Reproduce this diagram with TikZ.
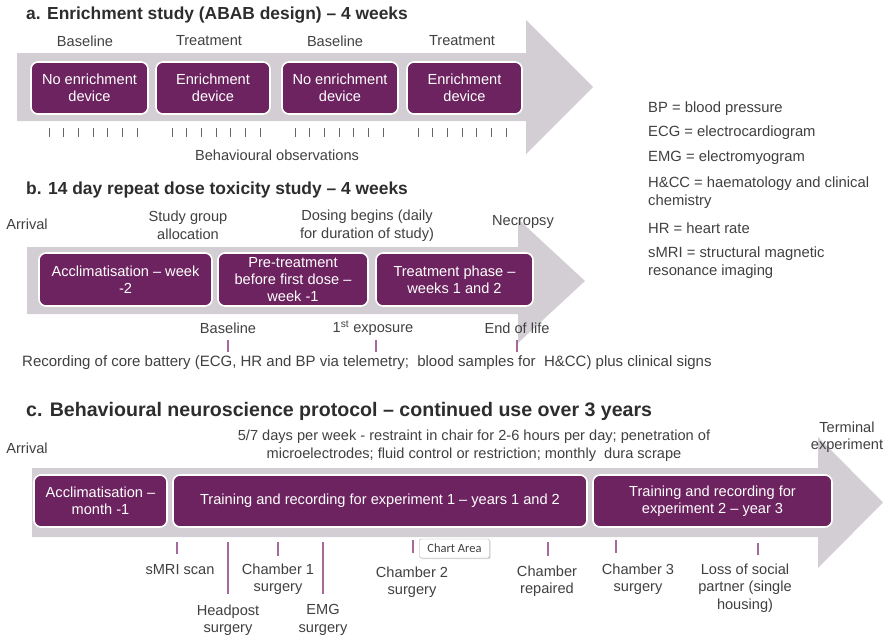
\documentclass[tikz,border=0pt]{standalone}
\usepackage{fontspec}
\setmainfont{Liberation Sans}
\newfontfamily\chartfont{Carlito}
\usetikzlibrary{shadows}
\definecolor{arrowgrey}{RGB}{211,206,211}
\definecolor{boxpurple}{RGB}{108,35,95}
\definecolor{tickpurple}{RGB}{165,105,155}
\definecolor{txt}{RGB}{64,64,64}
\definecolor{ttl}{RGB}{45,45,45}
\begin{document}
\begin{tikzpicture}[x=1pt,y=-1pt,
  lbl/.style={font=\fontsize{14.6}{17.5}\selectfont, text=txt, align=center, inner sep=0pt},
  lgd/.style={font=\fontsize{14.8}{17.5}\selectfont, text=txt, align=left, anchor=west, inner sep=0pt},
  ttlstyle/.style={font=\fontsize{17.4}{20}\selectfont\bfseries, text=ttl, anchor=west, inner sep=0pt},
  phase/.style={rectangle, rounded corners=7pt, fill=boxpurple, draw=white, line width=1.6pt, text=white, font=\fontsize{14.6}{17}\selectfont, align=center, inner sep=0pt},
  band/.style={fill=arrowgrey, draw=none},
  tmark/.style={draw=tickpurple, line width=1.2pt}
]
\useasboundingbox (0,0) rectangle (889,640);

% ---------------- a ----------------
\node[ttlstyle] (ta) at (26,15) {a. Enrichment study (ABAB design) – 4 weeks};
\fill[band] (17,53) -- (526,53) -- (526,20) -- (593,87) -- (526,154) -- (526,121) -- (17,121) -- cycle;
\node[lbl] (la1) at (85,41) {Baseline};
\node[lbl] (la2) at (209,41) {Treatment};
\node[lbl] (la3) at (335,41) {Baseline};
\node[lbl] (la4) at (462,41) {Treatment};
\node[phase, minimum width=117, minimum height=52] (a1) at (89.5,88) {No enrichment\\device};
\node[phase, minimum width=114, minimum height=52] (a2) at (213,88) {Enrichment\\device};
\node[phase, minimum width=116, minimum height=52] (a3) at (340,88) {No enrichment\\device};
\node[phase, minimum width=115, minimum height=52] (a4) at (464.5,88) {Enrichment\\device};
\foreach \s in {49,172,295,418} {
  \foreach \i in {0,...,6} {
    \draw[tmark, draw=txt!80, line width=0.9pt] ({\s+\i*14.7},128) -- ({\s+\i*14.7},137);
  }
}
\node[lbl] (obs) at (277,155) {Behavioural observations};

% ---------------- b ----------------
\node[ttlstyle] (tb) at (26,190) {b. 14 day repeat dose toxicity study – 4 weeks};
\fill[band] (27,247) -- (518,247) -- (518,219) -- (585,281) -- (518,343) -- (518,314) -- (27,314) -- cycle;
\node[lbl] (arrb) at (27,224) {Arrival};
\node[lbl] (sga) at (188,225.5) {Study group\\allocation};
\node[lbl] (dose) at (367,225.5) {Dosing begins (daily\\for duration of study)};
\node[lbl] (necr) at (523,222) {Necropsy};
\node[phase, minimum width=173, minimum height=53] (b1) at (125.5,279.5) {Acclimatisation – week\\-2};
\node[phase, minimum width=150, minimum height=53] (b2) at (293,279.5) {Pre-treatment\\before first dose –\\week -1};
\node[phase, minimum width=157, minimum height=53] (b3) at (454.5,279.5) {Treatment phase –\\weeks 1 and 2};
\node[lbl] (base) at (228,328) {Baseline};
\node[lbl] (expo) at (373,328) {1\textsuperscript{st} exposure};
\node[lbl] (eol) at (517,328) {End of life};
\coordinate (tb1a) at (228,340); \coordinate (tb1b) at (228,352);
\coordinate (tb2a) at (376,340); \coordinate (tb2b) at (376,352);
\coordinate (tb3a) at (517,340); \coordinate (tb3b) at (517,352);
\draw[tmark] (tb1a) -- (tb1b);
\draw[tmark] (tb2a) -- (tb2b);
\draw[tmark] (tb3a) -- (tb3b);
\node[lbl, anchor=west, font=\fontsize{15}{18}\selectfont] (rec) at (22,363) {Recording of core battery (ECG, HR and BP via telemetry;\ \ blood samples for\ \ H\&CC) plus clinical signs};

% ---------------- c ----------------
\node[ttlstyle, font=\fontsize{19.6}{22}\selectfont\bfseries] (tc) at (26,411) {c. Behavioural neuroscience protocol – continued use over 3 years};
\fill[band] (32,468) -- (818,468) -- (818,437) -- (883,502.5) -- (818,568) -- (818,537) -- (32,537) -- cycle;
\node[lbl] (arrc) at (27,448) {Arrival};
\node[lbl] (restr) at (474,445.5) {5/7 days per week - restraint in chair for 2-6 hours per day; penetration of\\microelectrodes; fluid control or restriction; monthly\ \ dura scrape};
\node[lbl] (term) at (847,437) {Terminal\\experiment};
\node[phase, minimum width=133, minimum height=52] (c1) at (100.5,501) {Acclimatisation –\\month -1};
\node[phase, minimum width=414, minimum height=52] (c2) at (380,501) {Training and recording for experiment 1 – years 1 and 2};
\node[phase, minimum width=239, minimum height=52] (c3) at (712.5,501) {Training and recording for\\experiment 2 – year 3};

\node[lbl] (smri) at (180,570) {sMRI scan};
\node[lbl] (head) at (228,620) {Headpost\\surgery};
\node[lbl] (ch1) at (278,579) {Chamber 1\\surgery};
\node[lbl] (emg) at (323,620) {EMG\\surgery};
\node[lbl] (ch2) at (412,582) {Chamber 2\\surgery};
\node[lbl] (rep) at (547,581) {Chamber\\repaired};
\node[lbl] (ch3) at (638,579) {Chamber 3\\surgery};
\node[lbl] (loss) at (745,588) {Loss of social\\partner (single\\housing)};

\coordinate (k1a) at (177,542); \coordinate (k1b) at (177,554);
\coordinate (k2a) at (228,542); \coordinate (k2b) at (228,594);
\coordinate (k3a) at (278,542); \coordinate (k3b) at (278,556);
\coordinate (k4a) at (323,542); \coordinate (k4b) at (323,594);
\coordinate (k5a) at (413,540); \coordinate (k5b) at (413,553);
\coordinate (k6a) at (548,542); \coordinate (k6b) at (548,556);
\coordinate (k7a) at (616,540); \coordinate (k7b) at (616,553);
\coordinate (k8a) at (758,543); \coordinate (k8b) at (758,555);
\foreach \k in {1,...,8} { \draw[tmark] (k\k a) -- (k\k b); }

\node[draw=gray!65, fill=white, rounded corners=2pt, drop shadow={shadow xshift=1.2pt, shadow yshift=-1.2pt, opacity=0.3},
      font=\chartfont\fontsize{12.5}{14}\selectfont, text=black!75, inner sep=1pt, minimum width=70, minimum height=19] (chart) at (454.5,548.5) {Chart Area};

% ---------------- legend ----------------
\node[lgd] (g1) at (648,109) {BP = blood pressure};
\node[lgd] (g2) at (648,133) {ECG = electrocardiogram};
\node[lgd] (g3) at (648,158) {EMG = electromyogram};
\node[lgd] (g4) at (648,192.5) {H\&CC = haematology and clinical\\chemistry};
\node[lgd] (g5) at (648,228) {HR = heart rate};
\node[lgd] (g6) at (648,262.5) {sMRI = structural magnetic\\resonance imaging};
\end{tikzpicture}
\end{document}
